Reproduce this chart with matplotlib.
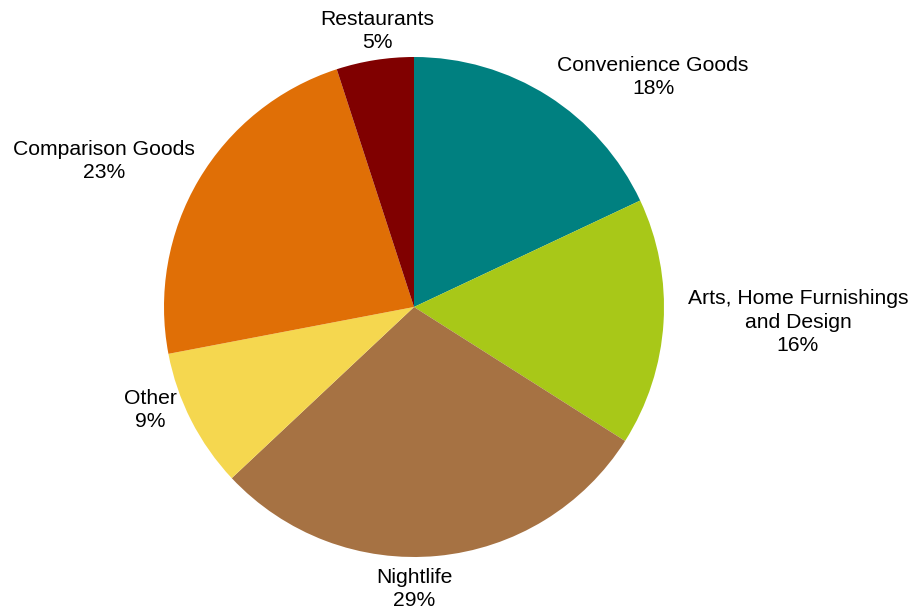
import matplotlib
matplotlib.use("Agg")
import matplotlib.pyplot as plt

plt.rcParams['font.family'] = ['Liberation Sans', 'DejaVu Sans']

categories = ["Convenience Goods", "Arts, Home Furnishings\nand Design", "Nightlife",
              "Other", "Comparison Goods", "Restaurants"]
shares = [18, 16, 29, 9, 23, 5]
colors = ["#008080", "#A8C818", "#A67243", "#F5D74F", "#E06F06", "#800000"]

# label anchor points (figure pixel space, origin bottom-left)
label_xy = [(653, 539), (798, 294), (414, 27), (150, 206), (104, 455), (377, 585)]

W, H = 915, 616
fig = plt.figure(figsize=(W / 100, H / 100), dpi=100)
ax = fig.add_axes([0, 0, 1, 1])
ax.axis('off')

ax.pie(shares, colors=colors, startangle=90, counterclock=False,
       radius=250, center=(414, 309), wedgeprops=dict(linewidth=0))
ax.set_xlim(0, W)
ax.set_ylim(0, H)
ax.set_aspect('equal')

for name, val, (x, y) in zip(categories, shares, label_xy):
    ax.text(x, y, f"{name}\n{val}%", ha='center', va='center',
            fontsize=15.2, color='black', linespacing=1.3)

fig.savefig("out.png", dpi=100)
